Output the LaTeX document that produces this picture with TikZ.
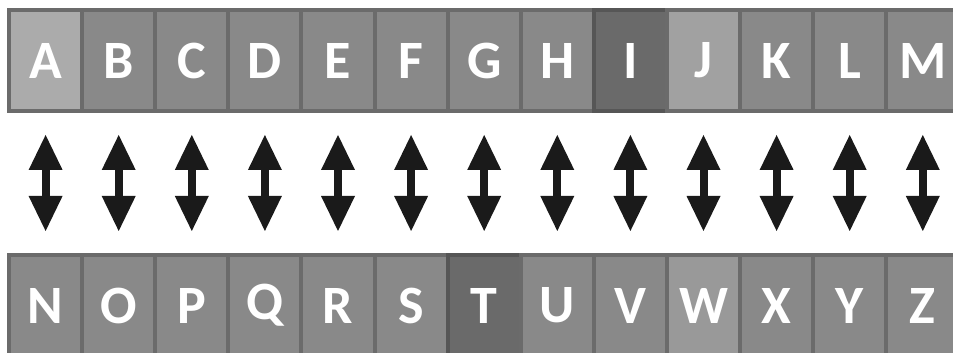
\documentclass[tikz,border=0pt]{standalone}
\usepackage{fontspec}
\setmainfont{Carlito}
\usepackage{tikz}
\usetikzlibrary{arrows.meta}

\definecolor{boxline}{HTML}{6B6B6B}
\definecolor{boxfill}{HTML}{898989}
\definecolor{lightfill}{HTML}{ABABAB}
\definecolor{paleJ}{HTML}{A1A1A1}
\definecolor{paleW}{HTML}{999999}
\definecolor{darkfill}{HTML}{6A6A6A}
\definecolor{darkline}{HTML}{565656}
\definecolor{arrowblack}{HTML}{1A1A1A}

\begin{document}
\begin{tikzpicture}[x=1pt, y=1pt, line join=miter,
  letterbox/.style={draw=boxline, fill=boxfill, line width=4pt, outer sep=0pt,
    minimum width=73.1pt, minimum height=101pt, inner sep=0pt,
    text=white, font=\fontsize{54}{54}\selectfont\bfseries},
  darkbox/.style={letterbox, fill=darkfill, draw=darkline},
  updown/.style={arrowblack, line width=8pt,
    {Triangle[width=34pt, length=35pt, line width=0pt]}-{Triangle[width=34pt, length=35pt, line width=0pt]},
    shorten <=24pt, shorten >=24pt}]
\useasboundingbox (0,0) rectangle (953,353);
\fill[white] (0,0) rectangle (953,353);
% top row
\node[letterbox, fill=lightfill] (A) at (45.6,292.5) {A};
\node[letterbox] (B) at (118.7,292.5) {B};
\node[letterbox] (C) at (191.8,292.5) {C};
\node[letterbox] (D) at (264.9,292.5) {D};
\node[letterbox] (E) at (338.0,292.5) {E};
\node[letterbox] (F) at (411.1,292.5) {F};
\node[letterbox] (G) at (484.2,292.5) {G};
\node[letterbox] (H) at (557.3,292.5) {H};
\node[darkbox] (I) at (630.4,292.5) {I};
\node[letterbox, fill=paleJ] (J) at (703.5,292.5) {J};
\node[letterbox] (K) at (776.6,292.5) {K};
\node[letterbox] (L) at (849.7,292.5) {L};
\node[letterbox] (M) at (922.8,292.5) {M};
% bottom row
\node[letterbox] (N) at (45.6,47.5) {N};
\node[letterbox] (O) at (118.7,47.5) {O};
\node[letterbox] (P) at (191.8,47.5) {P};
\node[letterbox] (Q) at (264.9,47.5) {Q};
\node[letterbox] (R) at (338.0,47.5) {R};
\node[letterbox] (S) at (411.1,47.5) {S};
\node[darkbox] (T) at (484.2,47.5) {T};
\node[letterbox] (U) at (557.3,47.5) {U};
\node[letterbox] (V) at (630.4,47.5) {V};
\node[letterbox, fill=paleW] (W) at (703.5,47.5) {W};
\node[letterbox] (X) at (776.6,47.5) {X};
\node[letterbox] (Y) at (849.7,47.5) {Y};
\node[letterbox] (Z) at (922.8,47.5) {Z};
% pairs
\draw[updown] (A.south) -- (N.north);
\draw[updown] (B.south) -- (O.north);
\draw[updown] (C.south) -- (P.north);
\draw[updown] (D.south) -- (Q.north);
\draw[updown] (E.south) -- (R.north);
\draw[updown] (F.south) -- (S.north);
\draw[updown] (G.south) -- (T.north);
\draw[updown] (H.south) -- (U.north);
\draw[updown] (I.south) -- (V.north);
\draw[updown] (J.south) -- (W.north);
\draw[updown] (K.south) -- (X.north);
\draw[updown] (L.south) -- (Y.north);
\draw[updown] (M.south) -- (Z.north);
\end{tikzpicture}
\end{document}
